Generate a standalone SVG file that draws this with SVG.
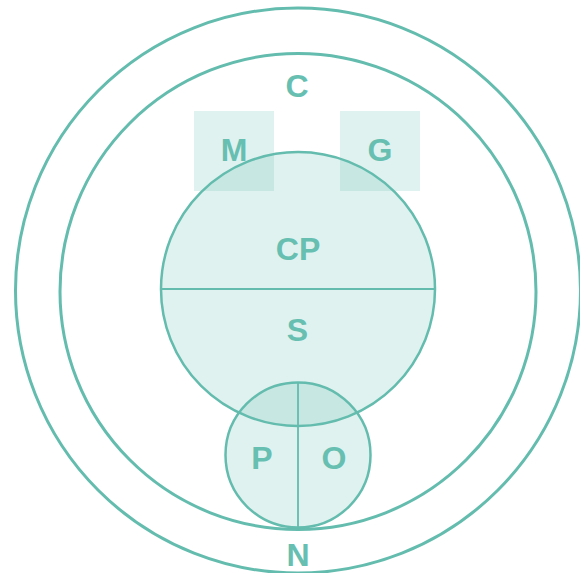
<svg xmlns="http://www.w3.org/2000/svg" width="580" height="573" viewBox="0 0 580 573">
  <style>
    .ring { fill: none; stroke: #63bcae; stroke-width: 3; }
    .zone { fill: #63bcae; fill-opacity: 0.2; stroke: #63bcae; stroke-width: 2.5; }
    .box { fill: #63bcae; fill-opacity: 0.2; stroke: none; }
    .div { stroke: #63bcae; stroke-width: 1.8; fill: none; }
    .lbl { font-family: "Liberation Sans", Arial, sans-serif; font-weight: 700; font-size: 32px; fill: #66bfb1; text-anchor: middle; }
  </style>
  <rect width="580" height="573" fill="#ffffff"/>
  <g id="N">
    <circle class="ring" cx="298" cy="290.5" r="282.5"/>
    <text class="lbl" x="298" y="566">N</text>
  </g>
  <g id="C">
    <circle class="ring" cx="298" cy="291.5" r="238"/>
    <text class="lbl" x="297" y="97">C</text>
  </g>
  <g id="M">
    <rect class="box" x="194" y="111" width="80" height="80"/>
    <text class="lbl" x="234" y="161">M</text>
  </g>
  <g id="G">
    <rect class="box" x="340" y="111" width="80" height="80"/>
    <text class="lbl" x="380" y="161">G</text>
  </g>
  <g id="CP">
    <circle class="zone" cx="298" cy="289" r="137"/>
    <text class="lbl" x="298" y="260">CP</text>
    <text class="lbl" x="297.5" y="341">S</text>
  </g>
  <g id="PO">
    <circle class="zone" cx="298" cy="455" r="72.5"/>
    <text class="lbl" x="262" y="469">P</text>
    <text class="lbl" x="334" y="469">O</text>
  </g>
  <g id="connectors">
    <line class="div" x1="161" y1="289" x2="435" y2="289"/>
    <line class="div" x1="298" y1="383" x2="298" y2="527"/>
  </g>
</svg>
